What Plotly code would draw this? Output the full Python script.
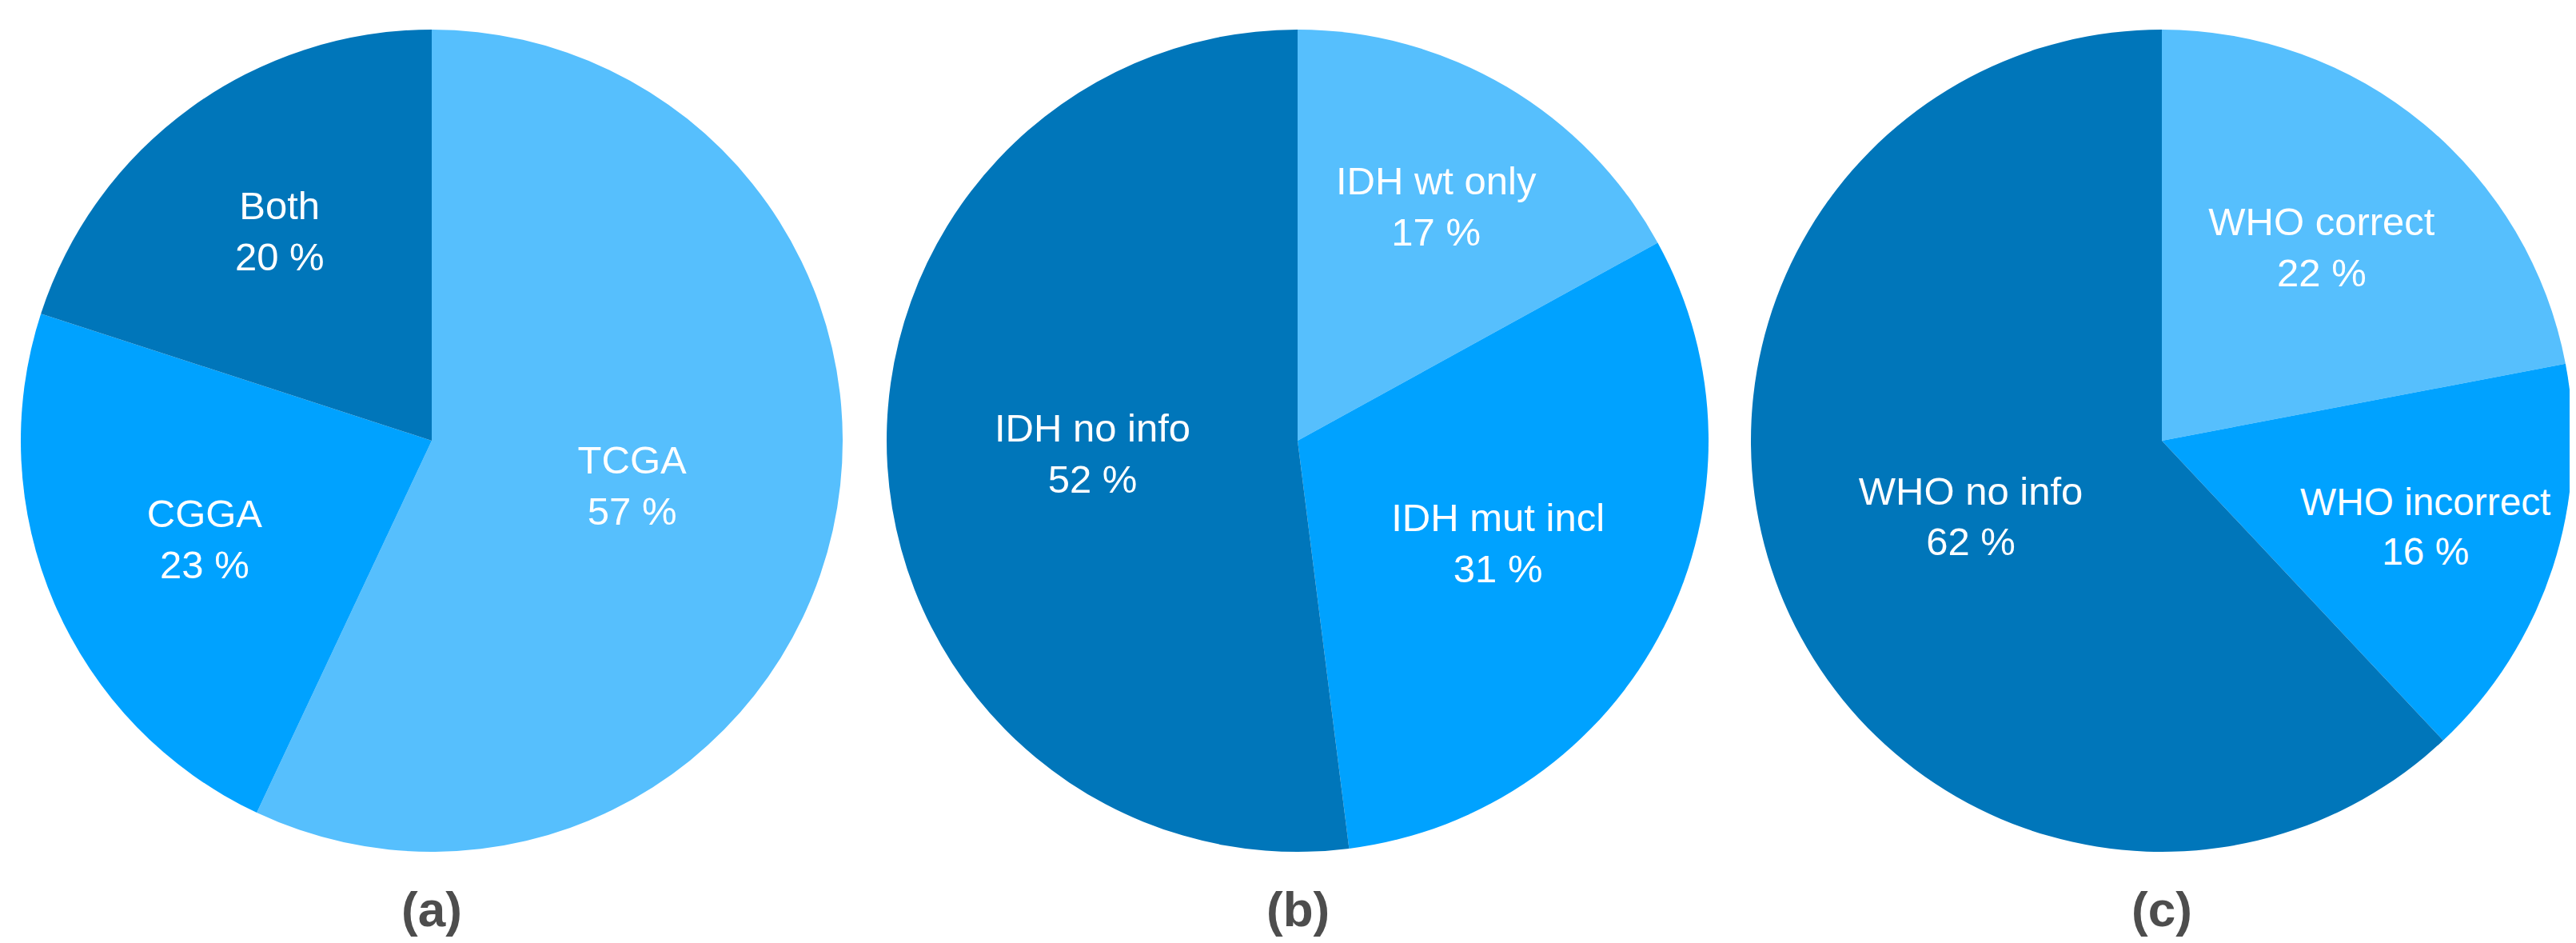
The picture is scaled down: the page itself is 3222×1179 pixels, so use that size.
import plotly.graph_objects as go

# 데이터
labels_a = ['TCGA', 'CGGA', 'Both']
values_a = [57, 23, 20]
labels_b = ['IDH wt only', 'IDH mut incl', 'IDH no info']
values_b = [17, 31, 52]
labels_c = ['WHO correct', 'WHO incorrect', 'WHO no info']
values_c = [22, 16, 62]
panels = ['(a)', '(b)', '(c)']

light, mid, dark = '#56BFFD', '#00A2FF', '#0076BA'
W, H = 3222, 1179

# 파이별 색상, 위치 (x 도메인)
pies = [
    (labels_a, values_a, [light, mid, dark], [18 / W, 1046 / W]),
    (labels_b, values_b, [light, mid, dark], [1101 / W, 2129 / W]),
    (labels_c, values_c, [light, mid, dark], [2182 / W, 3210 / W]),
]
ydom = [(H - 1057) / H, (H - 29) / H]

fig = go.Figure()
for lbl, val, colors, xdom in pies:
    fig.add_trace(go.Pie(
        labels=lbl, values=val, sort=False, direction='clockwise', rotation=0,
        marker=dict(colors=colors, line=dict(width=0)),
        texttemplate='%{label}<br>%{value} %', textposition='inside',
        insidetextorientation='horizontal',
        textfont=dict(color='white', size=49, family='Liberation Sans, Arial'),
        domain=dict(x=xdom, y=ydom), showlegend=False, hoverinfo='label+percent',
    ))

# 패널 라벨
for (lbl, val, colors, xdom), p in zip(pies, panels):
    fig.add_annotation(
        text='<b>%s</b>' % p, x=(xdom[0] + xdom[1]) / 2, y=(H - 1128) / H,
        xref='paper', yref='paper', showarrow=False, xanchor='center', yanchor='middle',
        font=dict(size=62, color='#4d4d4d', family='Liberation Sans, Arial'),
    )

fig.update_layout(width=W, height=H, margin=dict(l=0, r=0, t=0, b=0),
                  paper_bgcolor='white', plot_bgcolor='white')
fig.write_html('out.html')
